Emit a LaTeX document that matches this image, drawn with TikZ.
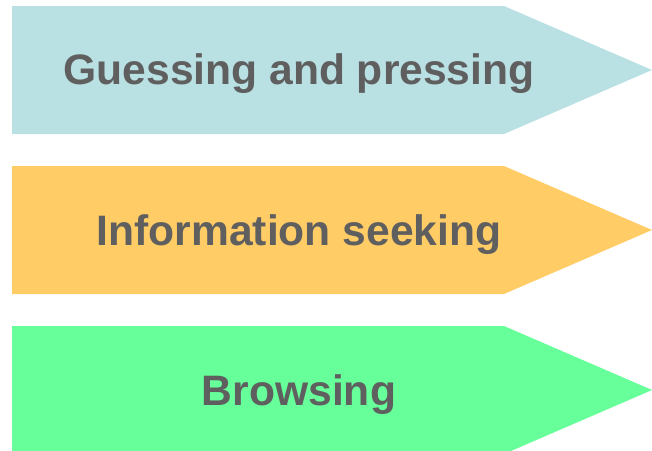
\documentclass[tikz,border=0pt]{standalone}
\usepackage{fontspec}
\setmainfont{Liberation Sans}
\definecolor{cblue}{HTML}{B9E0E3}
\definecolor{corange}{HTML}{FFCC66}
\definecolor{cgreen}{HTML}{66FF99}
\definecolor{tgray}{HTML}{5F5F5F}
\begin{document}
\begin{tikzpicture}[x=1pt,y=-1pt,
  lbl/.style={text=tgray,font=\fontsize{42.6}{48}\selectfont\bfseries,inner sep=0pt,anchor=base}]
\useasboundingbox (0,0) rectangle (652,450);
\fill[cblue] (12,6) -- (504,6) -- (652,70) -- (504,134) -- (12,134) -- cycle;
\fill[corange] (12,166) -- (504,166) -- (652,230) -- (504,294) -- (12,294) -- cycle;
\fill[cgreen] (12,326) -- (504,326) -- (652,390) -- (504,454) -- (12,454) -- cycle;
\node[lbl] (t1) at (299,84) {Guessing and pressing};
\node[lbl] (t2) at (299,245) {Information seeking};
\node[lbl] (t3) at (299,405) {Browsing};
\end{tikzpicture}
\end{document}
